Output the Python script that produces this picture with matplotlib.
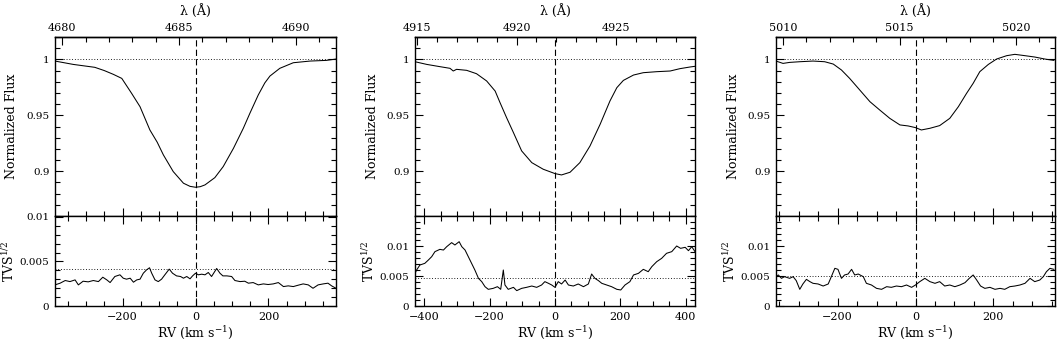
import math
import matplotlib
matplotlib.use('Agg')
import matplotlib.pyplot as plt
from matplotlib.ticker import MultipleLocator, FuncFormatter, FixedLocator

plt.rcParams['font.family'] = ['DejaVu Serif']
plt.rcParams['mathtext.fontset'] = 'dejavuserif'
plt.rcParams['font.size'] = 8
plt.rcParams['axes.labelsize'] = 9
plt.rcParams['lines.scale_dashes'] = False

C_KMS = 299792.458

# ---------------- data ----------------
# He II 4686
lam0_heii = 4685.71
rv_heii = [-385, -335, -276, -250, -225, -202, -175, -152, -125, -105, -88, -61, -33, -15, 0,
           13, 26, 53, 76, 104, 131, 149, 172, 190, 204, 231, 268, 314, 359, 385]
flux_heii = [0.9985, 0.9955, 0.9929, 0.990, 0.9866, 0.983, 0.9696, 0.9577, 0.9369, 0.926,
             0.9146, 0.8997, 0.8893, 0.8865, 0.8857, 0.8862, 0.8878, 0.8943, 0.9042, 0.9205,
             0.9384, 0.9518, 0.9682, 0.9790, 0.9851, 0.9920, 0.9970, 0.9985, 0.9991, 1.0003]
rv_tvs_heii = [-385, -371, -357, -344, -330, -321, -308, -294, -280, -266, -254, -243, -234,
               -221, -207, -198, -189, -179, -170, -161, -152, -143, -134, -126, -120, -111,
               -102, -93, -84, -72, -63, -52, -41, -33, -24, -15, -8, 0, 8, 17, 26, 35, 44,
               58, 67, 75, 86, 99, 108, 122, 135, 145, 158, 172, 186, 199, 213, 227, 241,
               254, 268, 281, 295, 309, 322, 336, 350, 363, 373, 385]
tvs_heii = [0.00237, 0.00256, 0.00286, 0.00274, 0.00293, 0.00237, 0.00278, 0.00271, 0.00286,
            0.00274, 0.00323, 0.00293, 0.00263, 0.00331, 0.00350, 0.00312, 0.00301, 0.00312,
            0.00267, 0.00293, 0.00301, 0.00368, 0.00406, 0.00429, 0.00368, 0.00293, 0.00274,
            0.00301, 0.00350, 0.00414, 0.00368, 0.00338, 0.00331, 0.00312, 0.00331, 0.00305,
            0.00338, 0.00368, 0.00350, 0.00357, 0.00350, 0.00376, 0.00331, 0.00421, 0.00368,
            0.00338, 0.00338, 0.00331, 0.00286, 0.00274, 0.00278, 0.00256, 0.00263, 0.00237,
            0.00248, 0.00241, 0.00248, 0.00263, 0.00218, 0.00226, 0.00218, 0.00233, 0.00248,
            0.00237, 0.00199, 0.00237, 0.00248, 0.00256, 0.00226, 0.00199]
thr_heii = 0.00414

# He I 4922
lam0_hei4922 = 4921.93
rv_hei4922 = [-428, -392, -352, -321, -311, -301, -270, -240, -209, -183, -168, -148, -127,
              -102, -71, -36, 0, 20, 46, 76, 107, 138, 168, 189, 209, 240, 270, 311, 352,
              382, 413, 428]
flux_hei4922 = [0.9979, 0.9955, 0.9935, 0.9920, 0.9896, 0.9911, 0.9902, 0.9872, 0.9807,
                0.9717, 0.9613, 0.9479, 0.9345, 0.9182, 0.9077, 0.9018, 0.8979, 0.8967,
                0.8991, 0.9077, 0.9226, 0.9420, 0.9628, 0.9747, 0.9812, 0.9860, 0.9881,
                0.9890, 0.9896, 0.9917, 0.9932, 0.9938]
rv_tvs_hei4922 = [-428, -423, -413, -398, -387, -377, -367, -352, -341, -331, -316, -306,
                  -293, -285, -275, -265, -255, -245, -234, -224, -214, -204, -189, -176,
                  -166, -158, -153, -143, -127, -117, -102, -87, -71, -56, -41, -31, -20,
                  -10, 0, 10, 20, 31, 41, 56, 71, 87, 102, 112, 122, 133, 143, 158, 173,
                  189, 201, 214, 229, 240, 255, 270, 285, 296, 311, 326, 341, 357, 372,
                  384, 398, 408, 418, 428]
tvs_hei4922 = [0.00544, 0.00600, 0.00683, 0.00711, 0.00767, 0.00822, 0.00906, 0.00944,
               0.00933, 0.00989, 0.01056, 0.01017, 0.01072, 0.00989, 0.00933, 0.00822,
               0.00711, 0.00600, 0.00461, 0.00406, 0.00322, 0.00278, 0.00294, 0.00322,
               0.00278, 0.00600, 0.00350, 0.00278, 0.00311, 0.00256, 0.00294, 0.00311,
               0.00333, 0.00311, 0.00350, 0.00406, 0.00378, 0.00350, 0.00311, 0.00406,
               0.00367, 0.00433, 0.00350, 0.00333, 0.00367, 0.00322, 0.00367, 0.00533,
               0.00461, 0.00422, 0.00378, 0.00350, 0.00322, 0.00278, 0.00267, 0.00350,
               0.00406, 0.00517, 0.00544, 0.00611, 0.00572, 0.00656, 0.00739, 0.00794,
               0.00878, 0.00906, 0.01000, 0.00961, 0.00978, 0.00922, 0.00989, 0.00906]
thr_hei4922 = 0.0047

# He I 5016
lam0_hei5016 = 5015.68
rv_hei5016 = [-358, -340, -323, -297, -263, -233, -211, -190, -169, -143, -117, -92, -66,
              -40, -19, 0, 15, 37, 62, 88, 110, 131, 148, 165, 187, 208, 234, 255, 281,
              306, 332, 355]
flux_hei5016 = [0.9985, 0.9964, 0.9973, 0.9979, 0.9985, 0.9979, 0.9958, 0.9905, 0.9830,
                0.9726, 0.9622, 0.9548, 0.9473, 0.9414, 0.9405, 0.9390, 0.9369, 0.9384,
                0.9408, 0.9473, 0.9577, 0.9696, 0.9786, 0.9890, 0.9955, 1.0003, 1.0033,
                1.0045, 1.0033, 1.0021, 1.0003, 0.9991]
rv_tvs_hei5016 = [-358, -352, -344, -336, -323, -314, -306, -297, -289, -280, -271, -263,
                  -250, -237, -224, -216, -207, -199, -190, -182, -173, -164, -156, -147,
                  -134, -126, -113, -100, -87, -74, -62, -49, -36, -23, -10, 0, 11, 24,
                  37, 50, 62, 75, 88, 101, 114, 127, 138, 148, 157, 167, 178, 191, 204,
                  217, 229, 242, 255, 268, 281, 294, 306, 319, 328, 336, 345, 355]
tvs_hei5016 = [0.00489, 0.00517, 0.00461, 0.00489, 0.00461, 0.00489, 0.00422, 0.00278,
               0.00367, 0.00444, 0.00406, 0.00378, 0.00367, 0.00333, 0.00367, 0.00489,
               0.00628, 0.00611, 0.00461, 0.00517, 0.00533, 0.00611, 0.00517, 0.00533,
               0.00489, 0.00378, 0.00350, 0.00294, 0.00278, 0.00322, 0.00311, 0.00333,
               0.00322, 0.00350, 0.00311, 0.00350, 0.00406, 0.00461, 0.00406, 0.00378,
               0.00406, 0.00333, 0.00350, 0.00322, 0.00350, 0.00389, 0.00461, 0.00517,
               0.00433, 0.00333, 0.00294, 0.00311, 0.00278, 0.00294, 0.00278, 0.00322,
               0.00333, 0.00350, 0.00378, 0.00461, 0.00406, 0.00433, 0.00489, 0.00572,
               0.00628, 0.00611]
thr_hei5016 = 0.00506

flux_ticks = [0.9, 0.95, 1.0]
tvs_ticks = [0, 0.005, 0.01]

panels = [
    dict(lam0=lam0_heii, rv=rv_heii, flux=flux_heii, rvt=rv_tvs_heii, tvs=tvs_heii,
         thr=thr_heii, xlim=(-385, 385), tvs_top=0.0101, x=(55, 336)),
    dict(lam0=lam0_hei4922, rv=rv_hei4922, flux=flux_hei4922, rvt=rv_tvs_hei4922,
         tvs=tvs_hei4922, thr=thr_hei4922, xlim=(-428, 428), tvs_top=0.015, x=(415, 695)),
    dict(lam0=lam0_hei5016, rv=rv_hei5016, flux=flux_hei5016, rvt=rv_tvs_hei5016,
         tvs=tvs_hei5016, thr=thr_hei5016, xlim=(-358, 358), tvs_top=0.015, x=(776, 1055)),
]

# ---------------- figure ----------------
W, H = 1057, 340
fig = plt.figure(figsize=(W / 100, H / 100), dpi=100)


def rect(x0, x1, y0, y1):
    return [x0 / W, 1 - y1 / H, (x1 - x0) / W, (y1 - y0) / H]


gfmt = FuncFormatter(lambda v, p: '%g' % round(v, 6))
LW = 0.75
DASH = (4.5, 2.3)
DOT = (0.6, 1.4)

for p in panels:
    x0, x1 = p['x']
    axt = fig.add_axes(rect(x0, x1, 37, 216))
    axb = fig.add_axes(rect(x0, x1, 216, 306), sharex=axt)

    axt.plot(p['rv'], p['flux'], color='black', lw=LW)
    axt.axhline(1.0, color='black', lw=0.7, dashes=DOT)
    axt.axvline(0, color='black', lw=0.8, dashes=DASH)
    axt.set_xlim(*p['xlim'])
    axt.set_ylim(0.86, 1.02)

    axb.plot(p['rvt'], p['tvs'], color='black', lw=LW)
    axb.axhline(p['thr'], color='black', lw=0.7, dashes=DOT)
    axb.axvline(0, color='black', lw=0.8, dashes=DASH)
    axb.set_ylim(0, p['tvs_top'])

    for ax in (axt, axb):
        for s in ax.spines.values():
            s.set_linewidth(1.0)
        ax.xaxis.set_major_locator(MultipleLocator(200))
        ax.xaxis.set_minor_locator(MultipleLocator(50))
        ax.tick_params(which='both', direction='in', right=True, width=0.8)
        ax.tick_params(which='major', length=6)
        ax.tick_params(which='minor', length=3.5)
        ax.tick_params(axis='y', pad=4, labelsize=7.5)
        ax.yaxis.set_major_formatter(gfmt)

    axt.tick_params(axis='x', which='both', top=False, bottom=True, labelbottom=False)
    axb.tick_params(axis='x', which='both', top=True, bottom=True, pad=4)
    axt.yaxis.set_major_locator(FixedLocator(flux_ticks))
    axt.yaxis.set_minor_locator(MultipleLocator(0.01))
    axb.yaxis.set_major_locator(FixedLocator(tvs_ticks))
    axb.yaxis.set_minor_locator(MultipleLocator(0.001))

    lam0 = p['lam0']
    lam_lo = lam0 * (1 + p['xlim'][0] / C_KMS)
    lam_hi = lam0 * (1 + p['xlim'][1] / C_KMS)
    maj = [5 * k for k in range(math.ceil(lam_lo / 5), math.floor(lam_hi / 5) + 1)]
    mnr = [k for k in range(math.ceil(lam_lo), math.floor(lam_hi) + 1)]
    sec = axt.secondary_xaxis(
        'top',
        functions=(lambda v, l=lam0: l * (1 + v / C_KMS),
                   lambda l, l0=lam0: (l / l0 - 1) * C_KMS))
    sec.xaxis.set_major_locator(FixedLocator(maj))
    sec.xaxis.set_minor_locator(FixedLocator(mnr))
    sec.xaxis.set_major_formatter(gfmt)
    sec.tick_params(which='both', direction='in', width=0.8, pad=3)
    sec.tick_params(which='major', length=6)
    sec.tick_params(which='minor', length=3.5)
    sec.spines['top'].set_linewidth(1.0)
    sec.set_xlabel('λ (Å)', labelpad=6)

    axt.set_ylabel('Normalized Flux')
    axb.set_ylabel('TVS$^{1/2}$')
    axt.yaxis.set_label_coords(-0.13, 0.5)
    axb.yaxis.set_label_coords(-0.135, 0.5)
    axb.set_xlabel('RV (km s$^{-1}$)', labelpad=2)

fig.savefig('out.png', dpi=100)
